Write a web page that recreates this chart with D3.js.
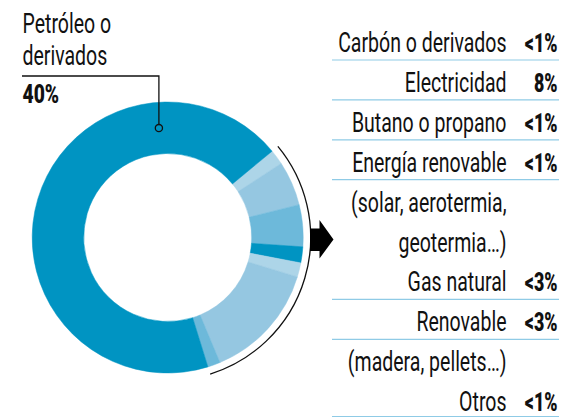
<!DOCTYPE html>
<html><head><meta charset="utf-8">
<script src="https://cdn.jsdelivr.net/npm/d3@7"></script>
<style>
html,body{margin:0;padding:0;background:#fff;}
svg{display:block;}
</style></head>
<body>
<script>
// ---- data ----
const mainLabel = ["Petróleo o", "derivados"];
const mainShare = "40%";
const categories = [
  ["Carbón o derivados"],
  ["Electricidad"],
  ["Butano o propano"],
  ["Energía renovable", "(solar, aerotermia,", "geotermia…)"],
  ["Gas natural"],
  ["Renovable", "(madera, pellets…)"],
  ["Otros"]
];
const shareLabels = ["<1%", "8%", "<1%", "<1%", "<3%", "<3%", "<1%"];
// arc shares as drawn (percent of the ring), clockwise from the top-right
const arcNames = ["s1", "s2", "s3", "s4", "s5", "s6", "s7", "Petróleo o derivados"];
const arcValues = [1.8, 5.3, 5.0, 1.9, 1.7, 14.0, 1.5, 68.8];
const arcColors = ["#add5e8", "#95c7e1", "#6db9da", "#0094c2", "#add5e8", "#95c7e1", "#6db9da", "#0094c2"];

// ---- layout ----
const W = 564, H = 417;
const cx = 167.7, cy = 237.5, rIn = 84, rOut = 135.5, rBracket = 143;
const startDeg = 50.4;

const svg = d3.select("body").append("svg").attr("width", W).attr("height", H);

const pie = d3.pie().sort(null).value(d => d)
  .startAngle(startDeg * Math.PI / 180)
  .endAngle(startDeg * Math.PI / 180 + 2 * Math.PI);
const arcs = pie(arcValues);
const arcGen = d3.arc().innerRadius(rIn).outerRadius(rOut);

const g = svg.append("g").attr("transform", `translate(${cx},${cy})`);
g.selectAll("path.seg").data(arcs).enter().append("path")
  .attr("class", "seg")
  .attr("d", arcGen)
  .attr("fill", (d, i) => arcColors[i])
  .attr("stroke", (d, i) => arcColors[i])
  .attr("stroke-width", 0.5);

// bracket arc over the small segments
const smallStart = arcs[0].startAngle, smallEnd = arcs[arcs.length - 2].endAngle;
g.append("path")
  .attr("d", d3.arc().innerRadius(rBracket).outerRadius(rBracket)({startAngle: smallStart, endAngle: smallEnd}))
  .attr("fill", "none").attr("stroke", "#111").attr("stroke-width", 1.3);

// arrow
svg.append("path")
  .attr("d", "M310,228.5 L319.5,228.5 L319.5,220 L333.5,239.5 L319.5,258.5 L319.5,251 L310,251 Z")
  .attr("fill", "#000");

// leader for main label
const markAng = -4.6 * Math.PI / 180, markR = (rIn + rOut) / 2;
const mx = cx + markR * Math.sin(markAng), my = cy - markR * Math.cos(markAng);
svg.append("path")
  .attr("d", `M22,76 H${mx} V${my - 3.5}`)
  .attr("fill", "none").attr("stroke", "#111").attr("stroke-width", 1.3);
svg.append("circle").attr("cx", mx).attr("cy", my).attr("r", 3.6)
  .attr("fill", "none").attr("stroke", "#111").attr("stroke-width", 1.3);

// text helpers
const FONT = "Roboto, 'Liberation Sans', sans-serif";
function measure(str, size, weight) {
  const t = svg.append("text").attr("font-family", FONT).attr("font-size", size)
    .attr("font-weight", weight).text(str);
  const w = t.node().getComputedTextLength();
  t.remove();
  return w;
}
const LS = 28.5, LW = 400;
const lightScale = 168.5 / measure("Carbón o derivados", LS, LW);
const BS = 26, BW = 900;
const boldScale = 32.7 / measure("<1%", BS, BW);

function addText(str, x, y, anchor, size, weight, sx) {
  svg.append("g").attr("transform", `translate(${x},${y}) scale(${sx},1)`)
    .append("text").attr("font-family", FONT).attr("font-size", size)
    .attr("font-weight", weight).attr("fill", "#111")
    .attr("text-anchor", anchor).text(str);
}

// main label
addText(mainLabel[0], 22.5, 33.3, "start", LS, LW, lightScale);
addText(mainLabel[1], 22.5, 65, "start", LS, LW, lightScale);
addText(mainShare, 22.5, 103.3, "start", 26, BW, 36.6 / measure(mainShare, 26, BW));

// legend
const y0 = 52, pitch = 39.9, textRight = 506.5, shareRight = 557.5;
let line = 0;
categories.forEach((lines, i) => {
  lines.forEach((str, j) => {
    addText(str, textRight, y0 + (line + j) * pitch, "end", LS, LW, lightScale);
  });
  const by = y0 + line * pitch;
  addText(shareLabels[i], shareRight, by, "end", BS, BW, boldScale);
  const sy = Math.min(by + 8, H - 0.5);
  svg.append("line").attr("x1", 332).attr("x2", 559).attr("y1", sy).attr("y2", sy)
    .attr("stroke", "#8fcbe6").attr("stroke-width", 1.2);
  line += lines.length;
});
</script>
</body></html>
